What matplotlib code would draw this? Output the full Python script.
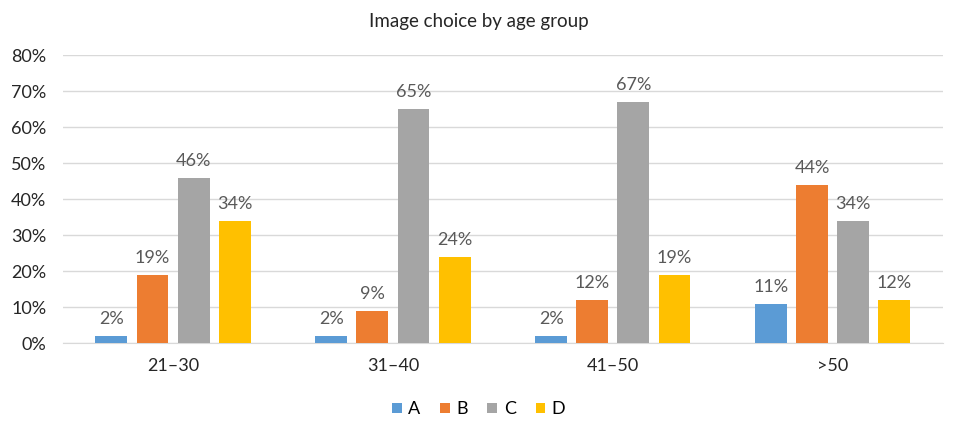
import numpy as np
import matplotlib.pyplot as plt

plt.rcParams['font.family'] = ['Lato', 'DejaVu Sans']

# survey results: share of each image choice per age group (%)
groups = ['21–30', '31–40', '41–50', '>50']
series = ['A', 'B', 'C', 'D']
a_vals = [2, 2, 2, 11]
b_vals = [19, 9, 12, 44]
c_vals = [46, 65, 67, 34]
d_vals = [34, 24, 19, 12]
colors = ['#5B9BD5', '#ED7D31', '#A5A5A5', '#FFC000']

fig = plt.figure(figsize=(9.57, 4.21), dpi=100)
ax = fig.add_axes([0.066, 0.185, 0.919, 0.684])

x = np.arange(len(groups))
width = 0.145
step = 0.187
for i, (name, vals) in enumerate(zip(series, [a_vals, b_vals, c_vals, d_vals])):
    pos = x + (i - 1.5) * step
    ax.bar(pos, vals, width, color=colors[i], label=name, zorder=3)
    for p, v in zip(pos, vals):
        ax.text(p, v + 2.5, f'{v}%', ha='center', va='bottom',
                fontsize=13, color='#595959')

ax.set_xlim(-0.5, len(groups) - 0.5)
ax.set_ylim(0, 80)
ax.set_yticks(range(0, 81, 10))
ax.set_yticklabels([f'{t}%' for t in range(0, 81, 10)])
ax.set_xticks(x)
ax.set_xticklabels(groups)
ax.tick_params(length=0, labelsize=13, colors='#262626')
ax.tick_params(axis='x', pad=11)
ax.tick_params(axis='y', pad=12)
ax.grid(axis='y', color='#D9D9D9', linewidth=1, zorder=0)
for s in ['top', 'right', 'left']:
    ax.spines[s].set_visible(False)
ax.spines['bottom'].set_color('#D9D9D9')

fig.suptitle('Image choice by age group', y=0.97, fontsize=13.5, color='#262626')
fig.legend(loc='lower center', ncol=4, frameon=False, bbox_to_anchor=(0.5, -0.03),
           handlelength=0.55, handleheight=0.55, handletextpad=0.35, columnspacing=1.1,
           fontsize=13)

fig.savefig('out.png', dpi=100)
